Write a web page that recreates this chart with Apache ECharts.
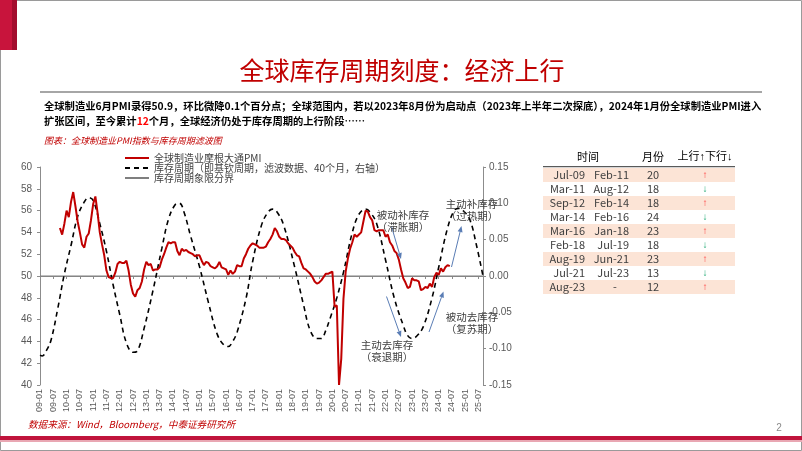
<!DOCTYPE html>
<html><head><meta charset="utf-8">
<script src="https://cdn.jsdelivr.net/npm/echarts/dist/echarts.min.js"></script>
<style>html,body{margin:0;padding:0;background:#fff}#c{width:802px;height:451px}</style>
</head><body><div id="c"></div>
<script>
// ---------- data ----------
const firstYear = 2009, lastYear = 2025, lastMonth = 9;
const months = [];
for (let y = firstYear; y <= lastYear; y++) {
  for (let m = 1; m <= 12; m++) {
    if (y === lastYear && m > lastMonth) break;
    months.push(String(y % 100).padStart(2, '0') + '-' + String(m).padStart(2, '0'));
  }
}
const pmiName = '全球制造业摩根大通PMI';
const cycleName = '库存周期（即基钦周期，滤波数据、40个月，右轴）';
const boundaryName = '库存周期象限分界';
const pmiStartIndex = 9; // 2009-10
const pmi = [
  54.4,53.8,54.8,56.0,55.4,56.8,57.7,56.4,55.0,54.0,52.9,52.6,53.6,53.9,55.1,56.6,57.3,55.8,54.0,52.9,
  51.9,50.5,49.9,49.8,49.8,50.3,51.1,51.3,51.2,51.2,51.4,50.5,49.2,48.4,48.1,48.7,48.9,49.5,50.6,51.3,
  51.0,51.1,50.5,50.6,50.6,50.8,51.5,52.0,52.6,53.1,53.0,53.1,53.1,52.3,51.9,52.5,52.3,52.4,52.2,52.1,
  52.0,51.8,51.9,51.9,51.4,51.0,51.3,51.2,50.9,50.8,50.7,50.9,51.3,50.8,50.7,50.6,50.1,50.5,50.2,50.4,
  51.0,50.9,50.9,51.6,52.0,52.5,52.8,53.0,52.9,52.8,52.6,52.6,52.6,52.7,53.1,53.4,53.8,54.4,54.1,53.6,
  53.4,53.4,53.3,53.0,52.8,52.6,52.2,51.9,51.8,51.2,50.7,50.6,50.4,50.2,49.9,49.5,49.3,49.4,49.6,49.9,
  50.2,50.2,50.3,50.4,47.2,47.3,40.0,42.4,47.9,50.4,51.6,52.5,53.1,53.8,53.6,53.8,54.0,55.0,56.0,55.9,
  55.4,55.1,54.2,54.1,54.2,54.2,54.2,53.6,53.8,53.1,52.8,52.3,52.1,51.5,50.6,49.8,49.4,48.9,49.0,49.8,
  49.6,49.6,49.5,48.7,48.8,49.0,48.9,49.3,49.0,49.9,50.3,50.1,50.7,50.4,50.8,51.0,50.9
];
// [month index, cycle value]
const cycle = [
  [0,-0.109],[1,-0.110],[3,-0.102],[5,-0.088],[8,-0.045],[11,0.003],[14,0.042],[17,0.082],[20,0.102],[22,0.108],
  [24,0.104],[27,0.072],[30,0.034],[33,-0.012],[36,-0.053],[39,-0.092],[42,-0.105],[44,-0.103],[47,-0.072],[51,-0.020],
  [55,0.038],[58,0.078],[61,0.098],[63,0.100],[65,0.088],[68,0.055],[72,0.013],[76,-0.036],[80,-0.080],[83,-0.095],
  [85,-0.097],[87,-0.090],[89,-0.077],[93,-0.031],[96,0.020],[100,0.070],[103,0.088],[105,0.092],[107,0.088],[110,0.070],
  [115,0.012],[119,-0.040],[122,-0.075],[125,-0.086],[127,-0.086],[129,-0.075],[131,-0.058],[134,-0.030],[137,0.005],[141,0.060],
  [144,0.085],[147,0.092],[149,0.088],[152,0.072],[156,0.022],[160,-0.031],[164,-0.068],[166,-0.082],[168,-0.086],[170,-0.083],
  [173,-0.070],[177,-0.030],[180,0.012],[184,0.066],[187,0.090],[189,0.093],[191,0.090],[194,0.078],[197,0.043],[200,0.000]
];
const boundaryValue = 50;
const leftMin = 40, leftMax = 60, leftInterval = 2;
const rightMin = -0.15, rightMax = 0.15, rightInterval = 0.05;

const tableHeader = ['时间', '月份', '上行↑下行↓'];
const tableStart = ['Jul-09','Mar-11','Sep-12','Mar-14','Mar-16','Feb-18','Aug-19','Jul-21','Aug-23'];
const tableEnd   = ['Feb-11','Aug-12','Feb-14','Feb-16','Jan-18','Jul-19','Jun-21','Jul-23','-'];
const tableMonths = [20,18,18,24,23,18,23,13,12];
const tableDir = ['up','down','up','down','up','down','up','down','up'];

const titleText = '全球库存周期刻度：经济上行';
const bodyLine1 = '全球制造业6月PMI录得50.9，环比微降0.1个百分点；全球范围内，若以2023年8月份为启动点（2023年上半年二次探底），2024年1月份全球制造业PMI进入';
const bodyLine2a = '扩张区间，至今累计', bodyLine2n = '12', bodyLine2b = '个月，全球经济仍处于库存周期的上行阶段……';
const captionText = '图表：全球制造业PMI指数与库存周期滤波图';
const sourceText = '数据来源：Wind，Bloomberg，中泰证券研究所';

// ---------- build ----------
const pmiData = months.map((_, i) => {
  const k = i - pmiStartIndex;
  return (k >= 0 && k < pmi.length) ? pmi[k] : null;
});
const boundaryData = [[0, boundaryValue], [months.length - 1, boundaryValue]];

const CJK = "'Noto Sans CJK SC', 'Noto Sans', sans-serif";
const LAT = "'Liberation Sans', Arial, sans-serif";
const MIX = "'Liberation Sans', 'Noto Sans CJK SC', sans-serif";

const g = [];
// slide frame
g.push({type:'rect', shape:{x:0.5,y:0.5,width:801,height:450}, style:{fill:'none', stroke:'#9a9a9a', lineWidth:1}, z:0});
g.push({type:'rect', shape:{x:0,y:0,width:12,height:50}, style:{fill:'#C8143C'}});
g.push({type:'rect', shape:{x:12,y:0,width:5,height:50}, style:{fill:'#A30D2E'}});
g.push({type:'rect', shape:{x:0,y:436,width:802,height:4}, style:{fill:'#C0143C'}});
g.push({type:'rect', shape:{x:0,y:440,width:802,height:2}, style:{fill:'#E9A7B3'}});
g.push({type:'text', style:{text:'2', x:779, y:428, fill:'#8a8a8a', font:'10px '+LAT, textAlign:'center', textVerticalAlign:'middle'}});
// title
g.push({type:'text', style:{text:titleText, x:402, y:70, fill:'#C00000', font:'25px '+CJK, textAlign:'center', textVerticalAlign:'middle'}});
g.push({type:'rect', shape:{x:40,y:91,width:722,height:2}, style:{fill:'#A6A6A6'}});
// body text
g.push({type:'text', style:{text:bodyLine1, x:44, y:106, fill:'#000', font:'bold 10.3px '+CJK, textVerticalAlign:'middle'}});
g.push({type:'text', style:{
  text:'{a|'+bodyLine2a+'}{r|'+bodyLine2n+'}{a|'+bodyLine2b+'}', x:44, y:121, textVerticalAlign:'middle',
  rich:{a:{fill:'#000', font:'bold 10.3px '+CJK}, r:{fill:'#FF0000', font:'bold 10.3px '+CJK}}
}});
// caption & source
g.push({type:'text', style:{text:captionText, x:44, y:141, fill:'#C00000', font:'italic 9px '+CJK, textVerticalAlign:'middle'}});
g.push({type:'text', style:{text:sourceText, x:28, y:424, fill:'#C00000', font:'italic 9.6px '+CJK, textVerticalAlign:'middle'}});

// annotations
const annColor = '#404040';
function ann(t1, t2, cx, cy) {
  g.push({type:'text', z:20, style:{text:t1, x:cx, y:cy, fill:annColor, font:'10.5px '+CJK, textAlign:'center', textVerticalAlign:'middle'}});
  g.push({type:'text', z:20, style:{text:t2, x:cx, y:cy+12, fill:annColor, font:'10.5px '+CJK, textAlign:'center', textVerticalAlign:'middle'}});
}
ann('被动补库存','（滞胀期）', 403, 215);
ann('主动补库存','（过热期）', 472, 204);
ann('被动去库存','（复苏期）', 472, 317);
ann('主动去库存','（衰退期）', 387, 345);
const arrowColor = '#5A7DB5';
function arrow(x1,y1,x2,y2) {
  const dx = x2-x1, dy = y2-y1, L = Math.hypot(dx,dy), ux = dx/L, uy = dy/L;
  const hl = 6, hw = 2.5;
  const bx = x2 - ux*hl, by = y2 - uy*hl;
  g.push({type:'line', z:15, shape:{x1:x1,y1:y1,x2:bx,y2:by}, style:{stroke:arrowColor, lineWidth:1}});
  g.push({type:'polygon', z:15, shape:{points:[[x2,y2],[bx - uy*hw, by + ux*hw],[bx + uy*hw, by - ux*hw]]}, style:{fill:arrowColor}});
}
arrow(391.5,226.5,401,259);
arrow(451.5,267,461.5,226);
arrow(386.5,296.5,401,337);
arrow(429,332,443.5,291.5);

// table
const tX = 543, tW = 192, rowH = 14, row0 = 168;
g.push({type:'text', style:{text:tableHeader[0], x:588, y:157, fill:'#000', font:'11px '+CJK, textAlign:'center', textVerticalAlign:'middle'}});
g.push({type:'text', style:{text:tableHeader[1], x:653, y:157, fill:'#000', font:'11px '+CJK, textAlign:'center', textVerticalAlign:'middle'}});
g.push({type:'text', style:{text:tableHeader[2], x:705, y:157, fill:'#000', font:'11px '+MIX, textAlign:'center', textVerticalAlign:'middle'}});
tableStart.forEach((s, r) => {
  const y = row0 + r*rowH;
  if (r % 2 === 0) g.push({type:'rect', shape:{x:tX, y:y, width:tW, height:rowH}, style:{fill:'#FCE4D6'}});
  const cy = y + rowH/2;
  g.push({type:'text', style:{text:s, x:585, y:cy, fill:'#404040', font:'11px '+CJK, textAlign:'right', textVerticalAlign:'middle'}});
  g.push({type:'text', style:{text:tableEnd[r], x:tableEnd[r]==='-'?615:629, y:cy, fill:'#404040', font:'11px '+CJK, textAlign:tableEnd[r]==='-'?'center':'right', textVerticalAlign:'middle'}});
  g.push({type:'text', style:{text:String(tableMonths[r]), x:653, y:cy, fill:'#404040', font:'11px '+CJK, textAlign:'center', textVerticalAlign:'middle'}});
  const up = tableDir[r] === 'up';
  g.push({type:'text', style:{text: up ? '↑' : '↓', x:705, y:cy, fill: up ? '#FF3B3B' : '#1FA872', font:'10px '+LAT, textAlign:'center', textVerticalAlign:'middle'}});
});
g.push({type:'rect', shape:{x:tX, y:166, width:tW, height:1.2}, style:{fill:'#595959'}});

const axisGray = '#8C8C8C';
const option = {
  animation: false,
  backgroundColor: '#fff',
  grid: {left:40, right:319, top:167, bottom:66, containLabel:false},
  legend: {
    orient:'vertical', left:119, top:148, itemWidth:24, itemHeight:6, itemGap:0,
    itemStyle:{opacity:0},
    textStyle:{fontSize:10, color:'#404040', fontFamily:CJK, lineHeight:10, padding:[0,0,0,0]},
    data:[pmiName, cycleName, boundaryName]
  },
  xAxis: {
    type:'category', data:months, boundaryGap:false,
    axisLine:{lineStyle:{color:axisGray}},
    axisTick:{interval:5, length:3, lineStyle:{color:axisGray}},
    axisLabel:{interval:5, rotate:90, fontSize:9, color:'#595959', fontFamily:LAT, margin:4}
  },
  yAxis: [
    {type:'value', min:leftMin, max:leftMax, interval:leftInterval, splitLine:{show:false},
     axisLine:{show:true, lineStyle:{color:axisGray}}, axisTick:{show:true, length:3, lineStyle:{color:axisGray}},
     axisLabel:{fontSize:10, color:'#595959', fontFamily:LAT, margin:8}},
    {type:'value', min:rightMin, max:rightMax, interval:rightInterval, splitLine:{show:false},
     axisLine:{show:true, lineStyle:{color:axisGray}}, axisTick:{show:true, length:3, lineStyle:{color:axisGray}},
     axisLabel:{fontSize:10, color:'#595959', fontFamily:LAT, margin:6, formatter:v => (Math.abs(v) < 1e-9 ? 0 : v).toFixed(2)}}
  ],
  series: [
    {name:pmiName, type:'line', yAxisIndex:0, data:pmiData, symbol:'none', connectNulls:false,
     lineStyle:{color:'#C00000', width:2}, itemStyle:{color:'#C00000'}, z:5},
    {name:cycleName, type:'line', yAxisIndex:1, data:cycle, symbol:'none', smooth:0.4,
     lineStyle:{color:'#000', width:1.6, type:[5,4]}, itemStyle:{color:'#000'}, z:4},
    {name:boundaryName, type:'line', yAxisIndex:0, data:boundaryData, symbol:'none',
     lineStyle:{color:'#7F7F7F', width:1}, itemStyle:{color:'#7F7F7F'}, z:3}
  ],
  graphic: g
};
const chart = echarts.init(document.getElementById('c'), null, {renderer:'canvas'});
chart.setOption(option);
</script></body></html>
